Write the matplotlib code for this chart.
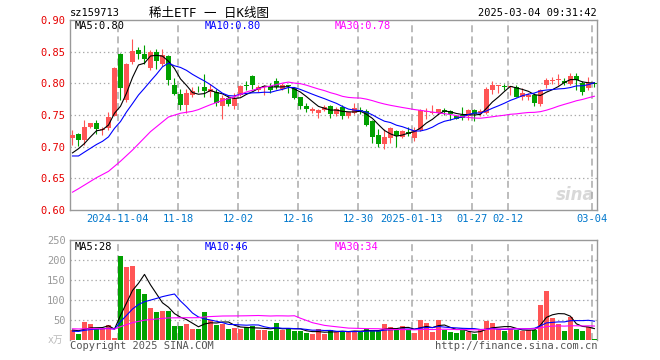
import matplotlib
matplotlib.use('Agg')
import matplotlib.pyplot as plt
import numpy as np
import pandas as pd

plt.rcParams['lines.scale_dashes'] = False

# trading days shown (2024-10-23 .. 2025-03-04)
dates = (['2024-10-%02d' % d for d in [23, 24, 25, 28, 29, 30, 31]]
         + ['2024-11-%02d' % d for d in [1, 4, 5, 6, 7, 8, 11, 12, 13, 14, 15, 18, 19, 20, 21, 22, 25, 26, 27, 28, 29]]
         + ['2024-12-%02d' % d for d in [2, 3, 4, 5, 6, 9, 10, 11, 12, 13, 16, 17, 18, 19, 20, 23, 24, 25, 26, 27, 30, 31]]
         + ['2025-01-%02d' % d for d in [2, 3, 6, 7, 8, 9, 10, 13, 14, 15, 16, 17, 20, 21, 22, 23, 24, 27]]
         + ['2025-02-%02d' % d for d in [5, 6, 7, 10, 11, 12, 13, 14, 17, 18, 19, 20, 21, 24, 25, 26, 27, 28]]
         + ['2025-03-%02d' % d for d in [3, 4]])

tick_dates = ['2024-11-04', '2024-11-18', '2024-12-02', '2024-12-16', '2024-12-30',
              '2025-01-13', '2025-01-27', '2025-02-12', '2025-03-04']
tick_labels = ['2024-11-04', '11-18', '12-02', '12-16', '12-30',
               '2025-01-13', '01-27', '02-12', '03-04']

open_ = [0.714, 0.7195, 0.710, 0.7315, 0.737, 0.726, 0.729, 0.749, 0.847, 0.774,
         0.833, 0.853, 0.847, 0.824, 0.849, 0.830, 0.843, 0.798, 0.783, 0.766,
         0.782, 0.793, 0.795, 0.787, 0.787, 0.765, 0.777, 0.765, 0.781, 0.797,
         0.811, 0.789, 0.794, 0.796, 0.803, 0.791, 0.797, 0.792, 0.778, 0.765,
         0.757, 0.753, 0.758, 0.765, 0.751, 0.762, 0.748, 0.753, 0.758, 0.756,
         0.741, 0.719, 0.705, 0.714, 0.725, 0.716, 0.723, 0.714, 0.727, 0.754,
         0.753, 0.753, 0.758, 0.756, 0.749, 0.750, 0.749, 0.758, 0.753, 0.753,
         0.790, 0.796, 0.796, 0.795, 0.794, 0.778, 0.779, 0.782, 0.768, 0.797,
         0.804, 0.806, 0.803, 0.799, 0.812, 0.800, 0.792, 0.801]
high = [0.727, 0.7215, 0.742, 0.738, 0.742, 0.731, 0.755, 0.826, 0.848, 0.832,
        0.870, 0.857, 0.861, 0.853, 0.855, 0.855, 0.844, 0.809, 0.791, 0.791,
        0.794, 0.796, 0.814, 0.799, 0.791, 0.781, 0.780, 0.784, 0.797, 0.803,
        0.813, 0.797, 0.797, 0.800, 0.809, 0.800, 0.797, 0.793, 0.779, 0.769,
        0.762, 0.760, 0.766, 0.766, 0.762, 0.766, 0.755, 0.769, 0.763, 0.760,
        0.742, 0.728, 0.728, 0.731, 0.727, 0.726, 0.731, 0.731, 0.759, 0.761,
        0.766, 0.760, 0.761, 0.758, 0.750, 0.762, 0.760, 0.760, 0.760, 0.795,
        0.803, 0.797, 0.799, 0.796, 0.798, 0.792, 0.785, 0.785, 0.791, 0.809,
        0.810, 0.814, 0.808, 0.816, 0.817, 0.803, 0.810, 0.802]
low = [0.703, 0.701, 0.703, 0.730, 0.720, 0.718, 0.726, 0.748, 0.774, 0.771,
       0.831, 0.839, 0.831, 0.821, 0.822, 0.828, 0.798, 0.782, 0.758, 0.753,
       0.779, 0.786, 0.779, 0.779, 0.765, 0.743, 0.765, 0.759, 0.780, 0.790,
       0.791, 0.787, 0.782, 0.784, 0.791, 0.790, 0.784, 0.775, 0.759, 0.754,
       0.753, 0.745, 0.756, 0.746, 0.749, 0.743, 0.746, 0.752, 0.752, 0.733,
       0.706, 0.699, 0.697, 0.706, 0.699, 0.714, 0.717, 0.709, 0.725, 0.744,
       0.752, 0.752, 0.750, 0.742, 0.743, 0.742, 0.742, 0.740, 0.749, 0.751,
       0.783, 0.784, 0.789, 0.782, 0.778, 0.773, 0.773, 0.765, 0.765, 0.792,
       0.799, 0.797, 0.797, 0.798, 0.790, 0.782, 0.790, 0.794]
close = [0.719, 0.710, 0.7315, 0.737, 0.728, 0.727, 0.747, 0.825, 0.792, 0.831,
         0.851, 0.846, 0.839, 0.849, 0.836, 0.845, 0.805, 0.783, 0.766, 0.785,
         0.788, 0.792, 0.788, 0.791, 0.769, 0.777, 0.767, 0.777, 0.796, 0.796,
         0.797, 0.794, 0.796, 0.789, 0.795, 0.798, 0.796, 0.777, 0.765, 0.759,
         0.759, 0.758, 0.762, 0.751, 0.759, 0.749, 0.754, 0.761, 0.757, 0.735,
         0.716, 0.705, 0.715, 0.730, 0.717, 0.725, 0.720, 0.727, 0.758, 0.757,
         0.754, 0.759, 0.754, 0.751, 0.744, 0.746, 0.758, 0.751, 0.756, 0.791,
         0.797, 0.797, 0.795, 0.796, 0.779, 0.785, 0.782, 0.769, 0.789, 0.805,
         0.805, 0.807, 0.801, 0.8115, 0.805, 0.787, 0.800, 0.799]
# volume in 万
vol = [25, 15, 45, 40, 28, 27.5, 37.5, 4, 210, 182.5,
       185, 127.5, 115, 80, 70, 72.5, 72.5, 35, 35, 40,
       27.5, 27.5, 70, 50, 37.5, 40, 27.5, 30, 27.5, 32.5,
       35, 25, 25, 22.5, 42.5, 25, 27.5, 22.5, 22.5, 17.5,
       15, 27.5, 15, 25, 20, 22.5, 22.5, 22.5, 22.5, 27.5,
       22.5, 22.5, 40, 32.5, 25, 35, 25, 17.5, 50, 42.5,
       20, 50, 25, 20, 17.5, 25, 20, 15, 27.5, 47.5,
       42.5, 27.5, 22.5, 27.5, 25, 22.5, 25, 25, 87.5, 122.5,
       55, 40, 22.5, 57.5, 27.5, 22.5, 32.5, 2.5]

# earlier sessions (off chart), estimated from where the MA lines start
pre_close = [0.545, 0.558, 0.563, 0.554, 0.577, 0.597, 0.585, 0.552, 0.567, 0.587,
             0.555, 0.548, 0.558, 0.605, 0.614, 0.574, 0.693, 0.676, 0.740, 0.743,
             0.710, 0.670, 0.677, 0.668, 0.677, 0.677, 0.690, 0.685, 0.680]
pre_vol = [28, 35, 30, 26, 33, 38, 29, 27, 32, 36, 30, 25, 34, 31, 28, 33, 29, 35, 30, 31,
           20, 18, 21, 17, 19, 24, 27, 23, 26]

# legend values as printed on the chart
price_ma_text = ['MA5:0.80', 'MA10:0.80', 'MA30:0.78']
vol_ma_text = ['MA5:28', 'MA10:46', 'MA30:34']

RED = '#FF5555'
GREEN = '#00A000'
MA_COLORS = ['black', '#0000FF', '#FF00FF']
GRID = '#AAAAAA'
MONO = 'DejaVu Sans Mono'

n = len(close)
x = np.arange(n)
o = np.array(open_)
c = np.array(close)
up = c >= o
cols = np.where(up, RED, GREEN)
bw = 5 / 6.
xc = x + bw / 2

fig = plt.figure(figsize=(6.6, 3.6), dpi=100)
ax = fig.add_axes([70 / 660, 1 - 210 / 360, 527 / 660, 190 / 360])
ax2 = fig.add_axes([70 / 660, 1 - 340 / 360, 527 / 660, 100 / 360])

# candles
ax.vlines(xc, low, high, colors=cols, linewidth=0.8, zorder=2)
ax.bar(x, np.maximum(np.abs(c - o), 0.0012), width=bw, bottom=np.minimum(o, c),
       align='edge', color=cols, linewidth=0, zorder=3)

# moving averages
full_c = pd.Series(pre_close + close)
full_v = pd.Series(pre_vol + vol)
for win, col in zip([5, 10, 30], MA_COLORS):
    ma = full_c.rolling(win).mean().iloc[len(pre_close):].values
    ax.plot(xc, ma, color=col, lw=0.8, zorder=4)
    mav = full_v.rolling(win).mean().iloc[len(pre_vol):].values
    ax2.plot(xc, mav, color=col, lw=0.8, zorder=4)

ax2.bar(x, vol, width=bw, align='edge', color=cols, linewidth=0, zorder=3)

tick_x = [dates.index(d) for d in tick_dates]

for a in (ax, ax2):
    a.set_xlim(0, 87.85)
    for tx in tick_x:
        a.axvline(tx, color=GRID, lw=1.1, dashes=(5, 3), zorder=1)
    a.tick_params(length=0, labelsize=7.5, pad=3)
    for s in a.spines.values():
        s.set_color('#999999')
        s.set_linewidth(1.0)

# price panel
ax.set_ylim(0.60, 0.90)
yt = [0.60, 0.65, 0.70, 0.75, 0.80, 0.85, 0.90]
ax.set_yticks(yt)
ax.set_yticklabels(['%.2f' % v for v in yt], family=MONO, color='#E60000')
for v in yt[1:-1]:
    ax.axhline(v, color=GRID, lw=0.9, dashes=(1, 2), zorder=1)
ax.set_xticks(tick_x)
ax.set_xticklabels(tick_labels, family=MONO, color='#0077CC')

# volume panel
ax2.set_ylim(0, 250)
vt = [50, 100, 150, 200, 250]
ax2.set_yticks(vt)
ax2.set_yticklabels([str(v) for v in vt], family=MONO, color='#999999')
for v in vt[:-1]:
    ax2.axhline(v, color=GRID, lw=0.9, dashes=(1, 2), zorder=1)
ax2.set_xticks([])
ax2.spines['bottom'].set_visible(False)
ax2.text(-0.012, 0.0, 'x万', transform=ax2.transAxes, ha='right', va='center',
         fontsize=7, color='#BBBBBB', family=['DejaVu Sans Mono', 'Noto Sans CJK SC'])

# legends
for txt, col, xp in zip(price_ma_text, MA_COLORS, [0.0095, 0.256, 0.503]):
    ax.text(xp, 0.968, txt, transform=ax.transAxes, color=col, fontsize=7.5,
            family=MONO, va='center', ha='left', zorder=5)
for txt, col, xp in zip(vol_ma_text, MA_COLORS, [0.0095, 0.256, 0.503]):
    ax2.text(xp, 0.933, txt, transform=ax2.transAxes, color=col, fontsize=7.5,
             family=MONO, va='center', ha='left', zorder=5)

# watermark
ax.text(0.995, 0.08, 'sina', transform=ax.transAxes, ha='right', va='center',
        fontsize=12, fontweight='bold', style='italic', color='#D8D8D8', zorder=0)

# header / footer
fig.text(70 / 660, 1 - 13 / 360, 'sz159713', ha='left', va='center', fontsize=7.5, family=MONO)
fig.text(209 / 660, 1 - 13 / 360, '稀土ETF 一 日K线图', ha='center', va='center', fontsize=9,
         family=['DejaVu Sans Mono', 'Noto Sans CJK SC'])
fig.text(597 / 660, 1 - 13 / 360, '2025-03-04 09:31:42', ha='right', va='center',
         fontsize=7.5, family=MONO)
fig.text(70 / 660, 1 - 346 / 360, 'Copyright 2025 SINA.COM', ha='left', va='center',
         fontsize=7.5, family=MONO, color='#555555')
fig.text(597 / 660, 1 - 346 / 360, 'http://finance.sina.com.cn', ha='right', va='center',
         fontsize=7.5, family=MONO, color='#555555')

fig.savefig('out.png', dpi=100)
